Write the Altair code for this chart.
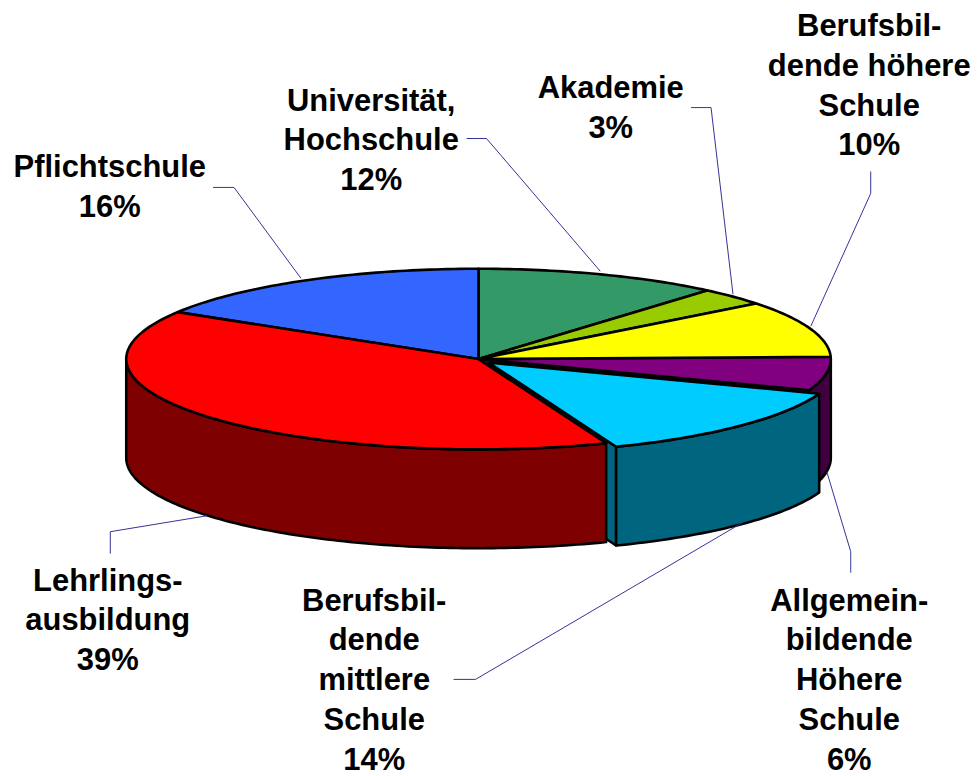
import numpy as np
import pandas as pd
import altair as alt

names = ["Universität, Hochschule", "Akademie", "Berufsbildende höhere Schule",
         "Allgemeinbildende Höhere Schule", "Berufsbildende mittlere Schule",
         "Lehrlingsausbildung", "Pflichtschule"]
shares = [11.25, 3.2, 10.15, 6.0, 13.5, 39.6, 16.3]
top_colors = ["#339966", "#99CC00", "#FFFF00", "#800080", "#00CCFF", "#FF0000", "#3366FF"]
side_colors = ["#1A4D33", "#4D6600", "#808000", "#400040", "#006680", "#7F0000", "#1A3380"]
label_lines = [
    ["Universität,", "Hochschule", "12%"],
    ["Akademie", "3%"],
    ["Berufsbil-", "dende höhere", "Schule", "10%"],
    ["Allgemein-", "bildende", "Höhere", "Schule", "6%"],
    ["Berufsbil-", "dende", "mittlere", "Schule", "14%"],
    ["Lehrlings-", "ausbildung", "39%"],
    ["Pflichtschule", "16%"],
]
label_x = [370.5, 610.5, 869.5, 849.5, 373.5, 106.5, 108.5]
label_y = [101, 88, 26, 602, 602, 582, 168]
leaders = [
    [(466, 138), (486, 138), (600, 271)],
    [(691, 107), (711, 107), (733, 294)],
    [(871, 171), (871, 193), (811, 326)],
    [(827, 472), (851, 552), (851, 573)],
    [(453, 680), (475, 680), (744, 522)],
    [(206, 516), (109, 532), (109, 554)],
    [(212, 187), (233, 187), (300, 278)],
]

CX, CY, RX, RY, DEPTH = 478, 359, 353, 90.5, 99
EXPLODE = {4: (10, 3.5)}

cum = np.cumsum([0] + shares) / sum(shares) * 2 * np.pi
X = alt.X("x:Q", axis=None, scale=alt.Scale(domain=[6.5, 969.5], nice=False, zero=False))
Y = alt.Y("y:Q", axis=None, scale=alt.Scale(domain=[768, 8], nice=False, zero=False))


def rim(a, b, dx=0, dy=0, down=0):
    n = max(2, int(abs(b - a) / np.radians(1)) + 2)
    t = np.linspace(a, b, n)
    return list(zip(CX + dx + RX * np.sin(t), CY + dy + down - RY * np.cos(t)))


def poly(pts, fill, sw=2.6):
    pts = list(pts) + [pts[0]]
    df = pd.DataFrame(pts, columns=["x", "y"]).assign(i=range(len(pts)))
    return alt.Chart(df).mark_line(fill=fill, stroke="black", strokeWidth=sw,
                                   strokeJoin="round", clip=False).encode(x=X, y=Y, order="i:Q")


def top(k):
    dx, dy = EXPLODE.get(k, (0, 0))
    return poly([(CX + dx, CY + dy)] + rim(cum[k], cum[k + 1], dx, dy), top_colors[k])


def wall(k, a, b):
    dx, dy = EXPLODE.get(k, (0, 0))
    return poly(rim(a, b, dx, dy) + rim(b, a, dx, dy, DEPTH), side_colors[k])


def face(k, t):
    dx, dy = EXPLODE.get(k, (0, 0))
    p = rim(t, t, dx, dy)[0]
    return poly([(CX + dx, CY + dy), p, (p[0], p[1] + DEPTH), (CX + dx, CY + dy + DEPTH)], side_colors[k])


layers = [
    wall(3, np.pi / 2, cum[4]),
    face(3, cum[4]),
    face(4, cum[5]),
    wall(4, cum[4], cum[5]),
    wall(5, cum[5], 1.5 * np.pi),
    top(3), top(4), top(0), top(1), top(2), top(6), top(5),
]

for pts in leaders:
    df = pd.DataFrame(pts, columns=["x", "y"]).assign(i=range(len(pts)))
    layers.append(alt.Chart(df).mark_line(color="#333399", strokeWidth=1).encode(x=X, y=Y, order="i:Q"))

labels = pd.DataFrame({"x": label_x, "y": label_y, "t": label_lines})
layers.append(
    alt.Chart(labels).mark_text(font="Liberation Sans", fontWeight="bold", fontSize=31,
                                lineHeight=40, align="center", baseline="middle", color="black")
    .encode(x=X, y=Y, text="t:N")
)

chart = alt.layer(*layers).properties(width=963, height=760, padding=0).configure_view(stroke=None)
chart.save("out.html", embed_options={"renderer": "svg", "actions": False})
